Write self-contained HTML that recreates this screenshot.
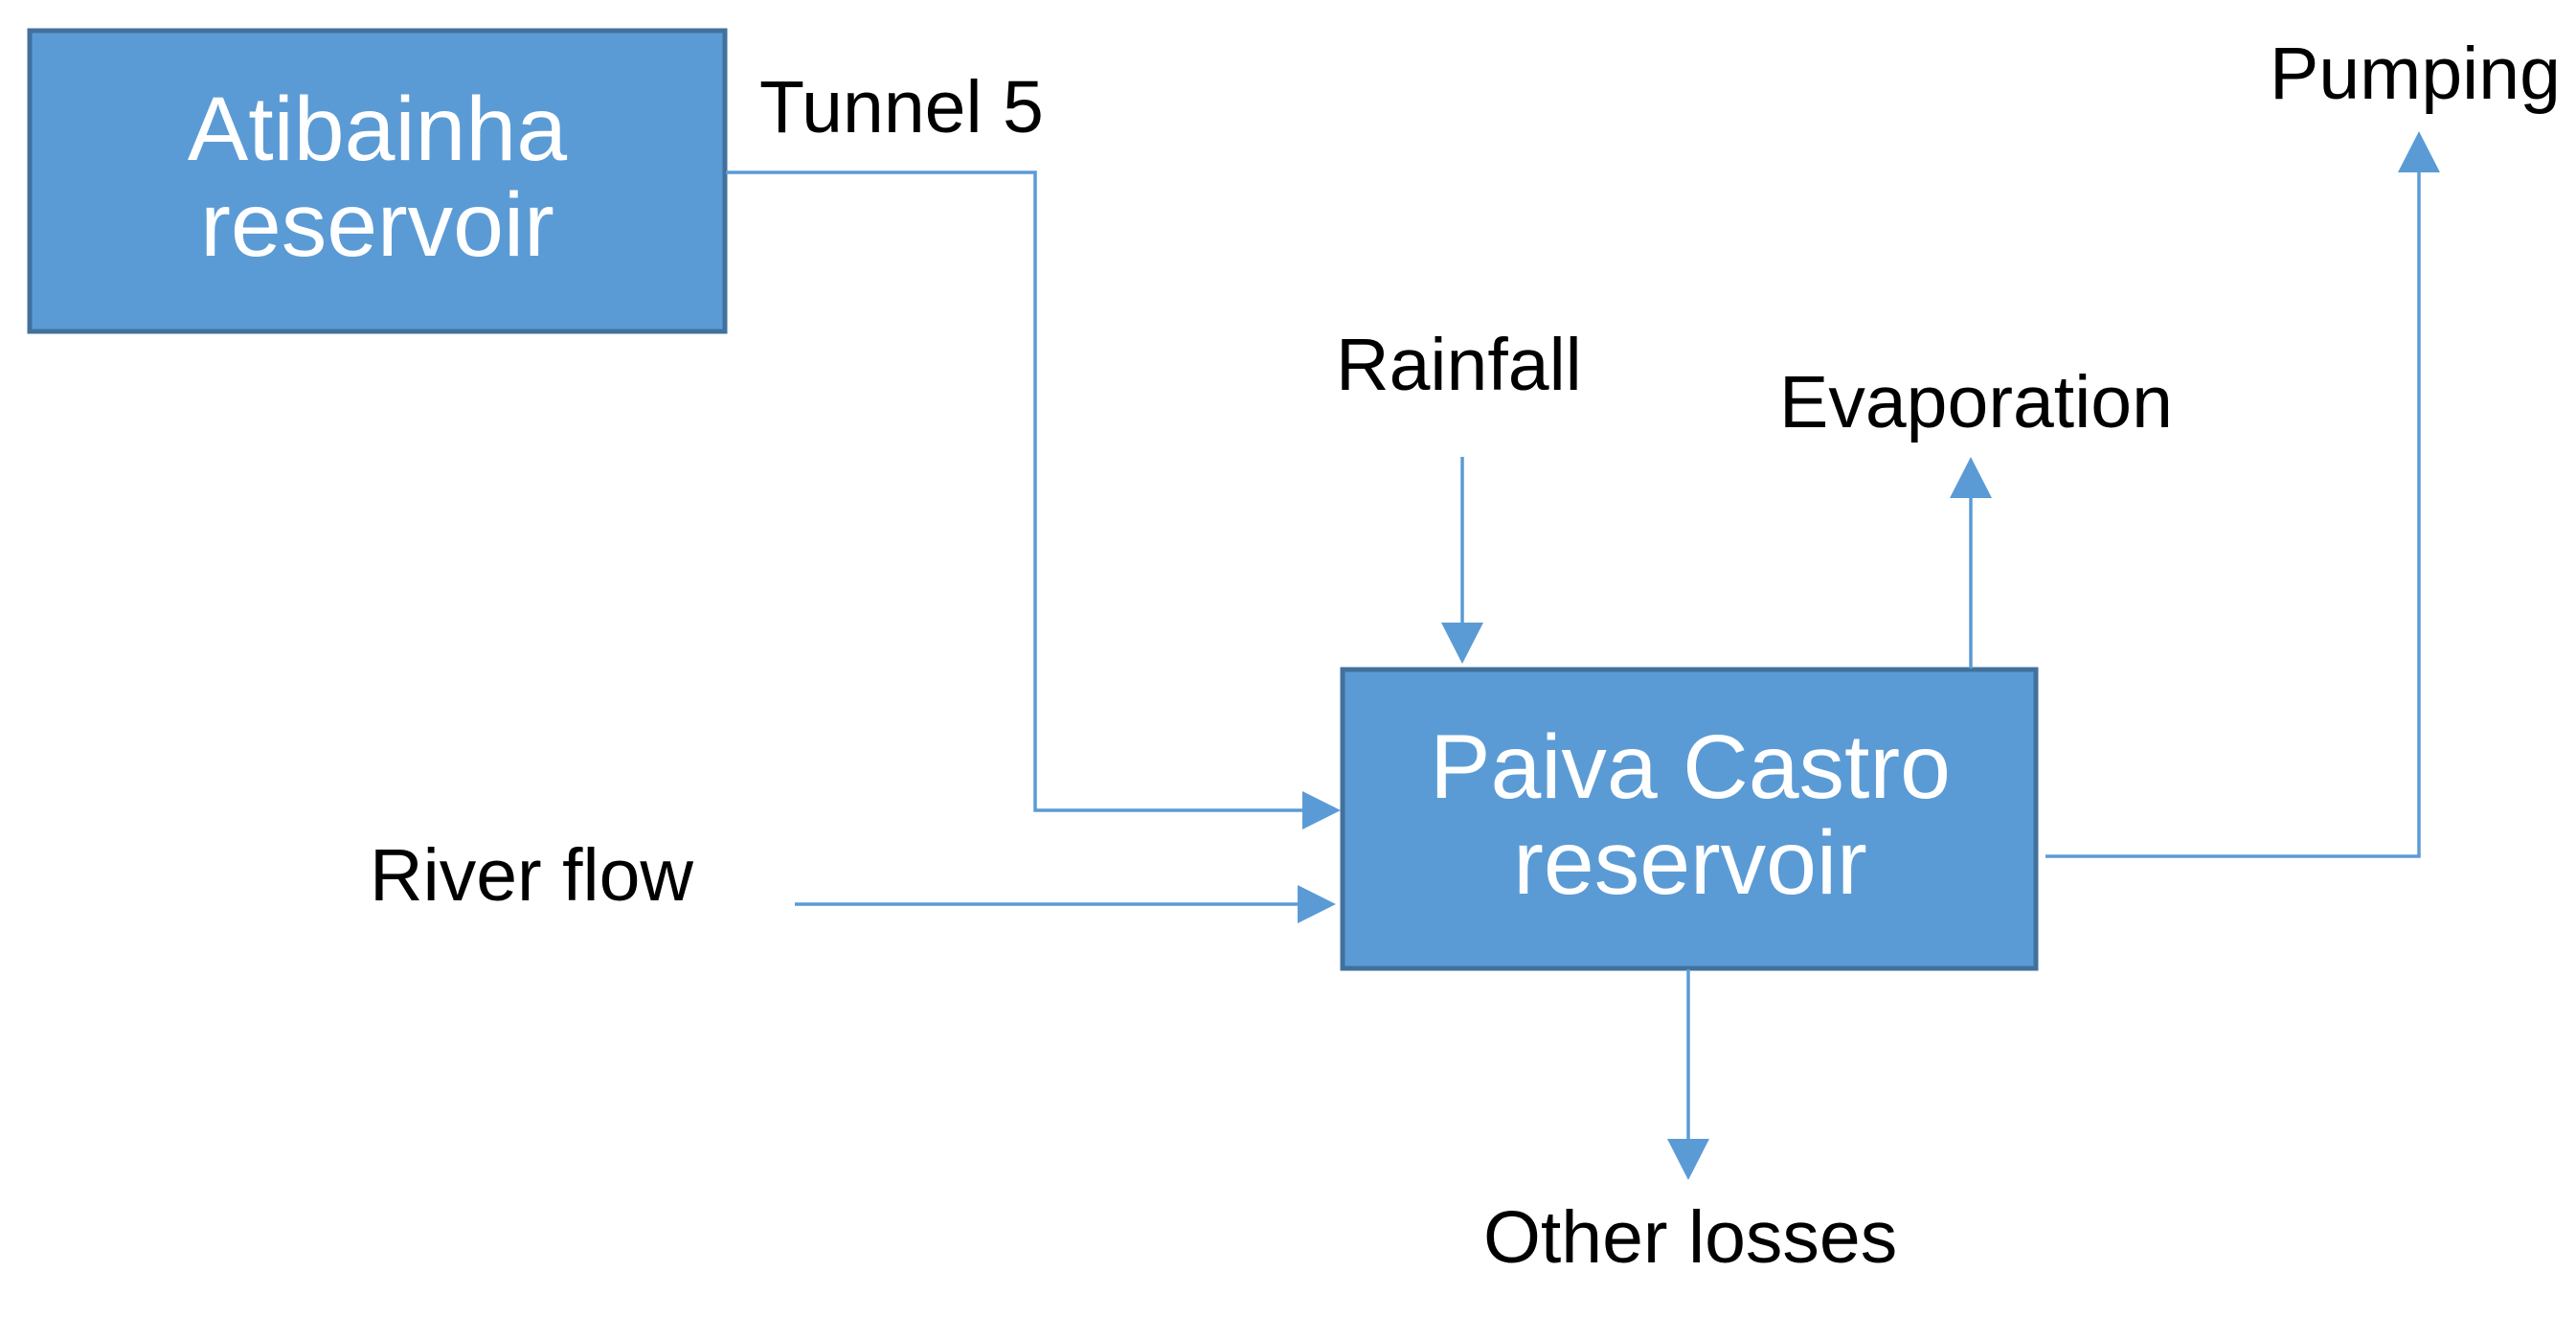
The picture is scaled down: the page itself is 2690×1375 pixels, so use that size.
<!DOCTYPE html>
<html><head><style>html,body{margin:0;padding:0;background:#fff}svg{display:block}</style></head>
<body>
<svg width="2690" height="1375" viewBox="0 0 2690 1375" xmlns="http://www.w3.org/2000/svg" font-family="Liberation Sans, Arial, sans-serif">
<rect x="31" y="32" width="726" height="314" fill="#5b9bd5" stroke="#41719c" stroke-width="5"/>
<text x="394" y="167" font-size="95" fill="#fff" text-anchor="middle">Atibainha</text>
<text x="394" y="267" font-size="95" fill="#fff" text-anchor="middle">reservoir</text>
<rect x="1402" y="699" width="724" height="312" fill="#5b9bd5" stroke="#41719c" stroke-width="5"/>
<text x="1765" y="833" font-size="95" fill="#fff" text-anchor="middle">Paiva Castro</text>
<text x="1765" y="933" font-size="95" fill="#fff" text-anchor="middle">reservoir</text>
<g fill="#000" font-size="77">
<text x="793" y="138">Tunnel 5</text>
<text x="386" y="940">River flow</text>
<text x="1395" y="407">Rainfall</text>
<text x="1858" y="446">Evaporation</text>
<text x="2370" y="103">Pumping</text>
<text x="1549" y="1318">Other losses</text>
</g>
<g stroke="#5b9bd5" stroke-width="3.5" fill="none">
<polyline points="758,180 1081,180 1081,846 1360,846"/>
<line x1="830" y1="944" x2="1355" y2="944"/>
<line x1="1527" y1="477" x2="1527" y2="655"/>
<line x1="2058" y1="698" x2="2058" y2="515"/>
<polyline points="2136,894 2526,894 2526,175"/>
<line x1="1763" y1="1012" x2="1763" y2="1195"/>
</g>
<g fill="#5b9bd5">
<polygon points="1400,846 1360,826 1360,866"/>
<polygon points="1395,944 1355,924 1355,964"/>
<polygon points="1527,693 1505,650 1549,650"/>
<polygon points="2058,477 2036,520 2080,520"/>
<polygon points="2526,137 2504,180 2548,180"/>
<polygon points="1763,1232 1741,1189 1785,1189"/>
</g>
</svg>
</body></html>
